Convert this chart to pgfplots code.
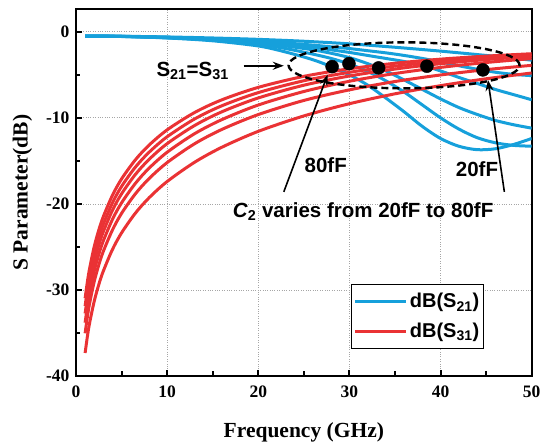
\documentclass[border=0pt]{standalone}
\usepackage{pgfplots}
\pgfplotsset{compat=1.18}
\usepackage{fontspec}
\setmainfont{Liberation Serif}
\newfontfamily\arialb{Liberation Sans}
\usetikzlibrary{arrows.meta}
\definecolor{sblue}{RGB}{22,160,219}
\definecolor{sred}{RGB}{234,50,52}
\begin{document}
\begin{tikzpicture}
\begin{axis}[
  scale only axis, width=455.7bp, height=366.6bp,
  xmin=0, xmax=50, ymin=-40, ymax=2.6,
  xtick={0,10,...,50}, ytick={-40,-30,...,0},
  minor xtick={5,15,...,45}, minor ytick={-35,-25,...,-5},
  tick pos=left, tick align=inside,
  major tick length=6bp, minor tick length=4.5bp,
  every tick/.style={black, line width=2bp},
  axis line style={line width=2.2bp},
  grid=major, grid style={dotted, gray!70, line width=0.7bp},
  ticklabel style={font=\bfseries\fontsize{17.5bp}{18bp}\selectfont},
  xticklabel style={yshift=-6bp},
  yticklabel style={xshift=-3bp},
  /pgf/number format/assume math mode=true,
  xlabel={Frequency (GHz)}, ylabel={S Parameter(dB)},
  label style={font=\bfseries\fontsize{21.5bp}{22bp}\selectfont},
  xlabel style={at={(axis description cs:0.5,-0.1691)}, anchor=base},
  ylabel style={at={(axis description cs:-0.1174,0.5)}, anchor=center},
  clip mode=individual,
  legend style={at={(0.895,0.0737)}, anchor=south east, draw=black, line width=1.2bp,
    font=\arialb\bfseries\fontsize{20bp}{24bp}\selectfont, inner xsep=2bp, inner ysep=7bp, row sep=10bp},
  legend cell align=left,
  legend image code/.code={\draw[#1] (0bp,0bp) -- (51bp,0bp);},
]
% S21 curves
\addplot[sblue, line width=3bp, smooth] coordinates {(1,-0.50) (5,-0.55) (10,-0.72) (15,-1.05) (20,-1.65) (23,-2.35) (26,-3.25) (28,-4.05) (30,-5.0) (32,-6.2) (34,-7.7) (36,-9.3) (38,-11.0) (40,-12.4) (42,-13.3) (44,-13.7) (46,-13.6) (48,-13.1) (50,-12.4)};
\addlegendentry{dB(S\textsubscript{21})}
\addplot[sblue, line width=3bp, smooth, forget plot] coordinates {(1,-0.50) (5,-0.54) (10,-0.70) (15,-0.98) (20,-1.45) (23,-1.95) (26,-2.6) (28,-3.1) (30,-3.75) (32,-4.6) (34,-5.7) (36,-7.0) (38,-8.5) (40,-10.0) (42,-11.3) (44,-12.3) (46,-12.9) (48,-13.2) (50,-13.3)};
\addplot[sblue, line width=3bp, smooth, forget plot] coordinates {(1,-0.50) (5,-0.54) (10,-0.68) (15,-0.92) (20,-1.3) (23,-1.65) (26,-2.1) (28,-2.5) (30,-3.0) (32,-3.7) (34,-4.55) (36,-5.6) (38,-6.7) (40,-7.8) (42,-8.8) (44,-9.6) (46,-10.3) (48,-10.8) (50,-11.2)};
\addplot[sblue, line width=3bp, smooth, forget plot] coordinates {(1,-0.50) (5,-0.53) (10,-0.66) (15,-0.87) (20,-1.18) (23,-1.45) (26,-1.8) (28,-2.1) (30,-2.4) (32,-2.75) (34,-3.1) (36,-3.45) (38,-3.9) (40,-4.55) (42,-5.3) (44,-6.0) (46,-6.7) (48,-7.3) (50,-7.9)};
\addplot[sblue, line width=3bp, smooth, forget plot] coordinates {(1,-0.50) (5,-0.53) (10,-0.64) (15,-0.83) (20,-1.1) (23,-1.3) (26,-1.55) (28,-1.75) (30,-1.95) (32,-2.2) (34,-2.45) (36,-2.75) (38,-3.1) (40,-3.5) (42,-3.95) (44,-4.35) (46,-4.7) (48,-4.95) (50,-5.1)};
\addplot[sblue, line width=3bp, smooth, forget plot] coordinates {(1,-0.50) (5,-0.52) (10,-0.60) (15,-0.72) (20,-0.88) (25,-1.1) (30,-1.4) (35,-1.8) (40,-2.25) (45,-2.75) (50,-3.3)};
% S31 curves
\addplot[sred, line width=3bp, smooth] coordinates {(1,-30.97) (1.25,-29.04) (1.5,-27.46) (2,-24.96) (2.5,-23.04) (3,-21.47) (4,-19.00) (5,-17.10) (6.5,-14.90) (8,-13.19) (10,-11.40) (13,-9.39) (16,-7.91) (20,-6.46) (25,-5.18) (30,-4.30) (35,-3.66) (40,-3.18) (45,-2.83) (50,-2.55)};
\addlegendentry{dB(S\textsubscript{31})}
\addplot[sred, line width=3bp, smooth, forget plot] coordinates {(1,-31.87) (1.25,-29.93) (1.5,-28.35) (2,-25.85) (2.5,-23.92) (3,-22.35) (4,-19.88) (5,-17.97) (6.5,-15.75) (8,-14.02) (10,-12.20) (13,-10.14) (16,-8.60) (20,-7.07) (25,-5.69) (30,-4.71) (35,-3.99) (40,-3.45) (45,-3.04) (50,-2.71)};
\addplot[sred, line width=3bp, smooth, forget plot] coordinates {(1,-32.74) (1.25,-30.81) (1.5,-29.23) (2,-26.73) (2.5,-24.80) (3,-23.22) (4,-20.74) (5,-18.83) (6.5,-16.60) (8,-14.85) (10,-13.00) (13,-10.90) (16,-9.30) (20,-7.69) (25,-6.21) (30,-5.14) (35,-4.33) (40,-3.71) (45,-3.23) (50,-2.85)};
\addplot[sred, line width=3bp, smooth, forget plot] coordinates {(1,-33.81) (1.25,-31.88) (1.5,-30.29) (2,-27.80) (2.5,-25.87) (3,-24.29) (4,-21.80) (5,-19.88) (6.5,-17.64) (8,-15.87) (10,-14.00) (13,-11.85) (16,-10.21) (20,-8.51) (25,-6.94) (30,-5.75) (35,-4.85) (40,-4.14) (45,-3.57) (50,-3.12)};
\addplot[sred, line width=3bp, smooth, forget plot] coordinates {(1,-35.04) (1.25,-33.11) (1.5,-31.52) (2,-29.03) (2.5,-27.09) (3,-25.51) (4,-23.03) (5,-21.10) (6.5,-18.85) (8,-17.08) (10,-15.20) (13,-13.02) (16,-11.35) (20,-9.62) (25,-7.98) (30,-6.75) (35,-5.78) (40,-5.02) (45,-4.40) (50,-3.90)};
\addplot[sred, line width=3bp, smooth, forget plot] coordinates {(1,-37.33) (1.25,-35.40) (1.5,-33.81) (2,-31.31) (2.5,-29.38) (3,-27.80) (4,-25.30) (5,-23.37) (6.5,-21.10) (8,-19.31) (10,-17.40) (13,-15.17) (16,-13.42) (20,-11.57) (25,-9.78) (30,-8.36) (35,-7.21) (40,-6.26) (45,-5.46) (50,-4.79)};
% crossing dots
\addplot[only marks, mark=*, mark size=6.5bp, black, forget plot] coordinates {(28.1,-4.05) (29.95,-3.7) (33.2,-4.2) (38.5,-4.0) (44.65,-4.43)};
% annotations
\draw[line width=2.4bp, dash pattern=on 7bp off 4bp] (axis cs:36,-3.9) ellipse [x radius=115.5bp, y radius=23bp];
\draw[-{Stealth[length=11bp,width=8bp]}, line width=1.6bp] (axis cs:18.4,-3.95) -- (axis cs:22.8,-3.95);
\draw[-{Stealth[length=11bp,width=8bp]}, line width=1.6bp] (axis cs:22.8,-18.6) -- (axis cs:27.6,-5.0);
\draw[-{Stealth[length=11bp,width=8bp]}, line width=1.6bp] (axis cs:47.0,-18.6) -- (axis cs:45.2,-5.6);
\node[anchor=base, font=\arialb\bfseries\fontsize{20.5bp}{22bp}\selectfont] at (axis cs:12.8,-5.2) {S\textsubscript{21}=S\textsubscript{31}};
\node[anchor=base, font=\arialb\bfseries\fontsize{20.5bp}{22bp}\selectfont] at (axis cs:27.4,-16.4) {80fF};
\node[anchor=base, font=\arialb\bfseries\fontsize{20.5bp}{22bp}\selectfont] at (axis cs:44.0,-16.8) {20fF};
\node[anchor=base, font=\arialb\bfseries\fontsize{20.5bp}{22bp}\selectfont] at (axis cs:31.5,-21.6) {\textit{C}\textsubscript{2} varies from 20fF to 80fF};
\end{axis}
\pgfresetboundingbox
\path ([xshift=-76bp,yshift=-67bp]current axis.south west) rectangle ([xshift=11.3bp,yshift=9.4bp]current axis.north east);
\end{tikzpicture}
\end{document}
